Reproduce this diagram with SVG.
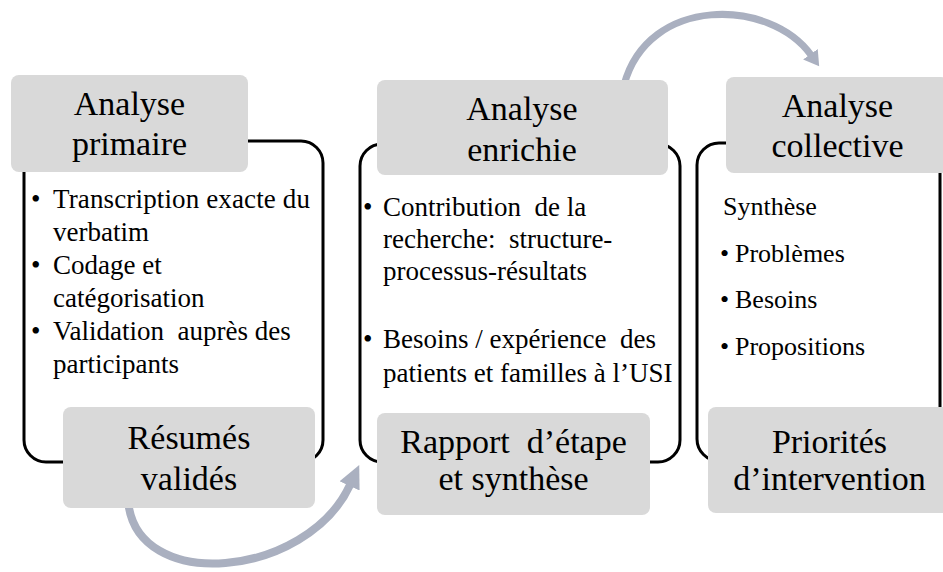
<svg xmlns="http://www.w3.org/2000/svg" width="943" height="572" viewBox="0 0 943 572">
<style>
.panel{fill:#ffffff;stroke:#000000;stroke-width:3}
.box{fill:#d9d9d9;stroke:none}
.title{font-size:34px;fill:#000000;text-anchor:middle}
.body{font-size:27px;fill:#000000}
.body2{font-size:26px;fill:#000000}
.arc{fill:none;stroke:#aab0c0}
</style>
<defs>
<marker id="headL" markerUnits="userSpaceOnUse" markerWidth="24" markerHeight="24" viewBox="0 0 24 24" refX="1" refY="12" orient="auto">
<path d="M0,1 L23,12 L0,23 z" fill="#aab0c0"/>
</marker>
<marker id="headS" markerUnits="userSpaceOnUse" markerWidth="20" markerHeight="20" viewBox="0 0 20 20" refX="1" refY="10" orient="auto">
<path d="M0,1 L15,10 L0,19 z" fill="#aab0c0"/>
</marker>
</defs>

<g id="connectors">
<path class="arc" stroke-width="8" d="M128,500 C135,595 307,578 350,485" marker-end="url(#headL)"/>
<path class="arc" stroke-width="7" d="M624,85 C648,-5 770,-2 811,55" marker-end="url(#headS)"/>
</g>

<g font-family="Liberation Serif, Times New Roman, DejaVu Serif, serif">
<g id="panel-primaire">
<rect class="panel" x="24" y="141" width="299" height="321" rx="22"/>
<g class="body">
<text x="31" y="208">•</text><text x="53" y="208" textLength="257" lengthAdjust="spacing">Transcription exacte du</text>
<text x="53" y="241">verbatim</text>
<text x="31" y="274">•</text><text x="53" y="274">Codage et</text>
<text x="53" y="307">catégorisation</text>
<text x="31" y="340">•</text><text x="53" y="340" xml:space="preserve">Validation  auprès des</text>
<text x="53" y="373">participants</text>
</g>
</g>
<g id="head-primaire">
<rect class="box" x="11" y="75" width="237" height="97" rx="8"/>
<text class="title" x="129.5" y="115">Analyse</text>
<text class="title" x="129.5" y="155">primaire</text>
</g>
<g id="out-resumes">
<rect class="box" x="63" y="407" width="252" height="101" rx="8"/>
<text class="title" x="189" y="449">Résumés</text>
<text class="title" x="189" y="490">validés</text>
</g>

<g id="panel-enrichie">
<rect class="panel" x="360" y="144" width="320" height="318" rx="22"/>
<g class="body">
<text x="363" y="216">•</text><text x="383" y="216" xml:space="preserve">Contribution  de la</text>
<text x="383" y="248" xml:space="preserve">recherche:  structure-</text>
<text x="383" y="280">processus-résultats</text>
<text x="363" y="348">•</text><text x="383" y="348" xml:space="preserve">Besoins / expérience  des</text>
<text x="383" y="382">patients et familles à l’USI</text>
</g>
</g>
<g id="head-enrichie">
<rect class="box" x="377" y="80" width="291" height="95" rx="8"/>
<text class="title" x="522" y="120">Analyse</text>
<text class="title" x="522" y="161">enrichie</text>
</g>
<g id="out-rapport">
<rect class="box" x="377" y="413" width="273" height="102" rx="8"/>
<text class="title" x="513.5" y="453" xml:space="preserve">Rapport  d’étape</text>
<text class="title" x="513.5" y="490">et synthèse</text>
</g>

<g id="panel-collective">
<rect class="panel" x="697" y="143" width="243" height="318" rx="22"/>
<g class="body2">
<text x="723" y="215">Synthèse</text>
<text x="720" y="262">•</text><text x="735" y="262">Problèmes</text>
<text x="720" y="308">•</text><text x="735" y="308">Besoins</text>
<text x="720" y="355">•</text><text x="735" y="355">Propositions</text>
</g>
</g>
<g id="head-collective">
<rect class="box" x="726" y="77" width="223" height="96" rx="8"/>
<text class="title" x="837.5" y="117">Analyse</text>
<text class="title" x="837.5" y="157">collective</text>
</g>
<g id="out-priorites">
<rect class="box" x="708" y="407" width="243" height="106" rx="8"/>
<text class="title" x="829.5" y="453">Priorités</text>
<text class="title" x="829.5" y="490">d’intervention</text>
</g>
</g>
</svg>
